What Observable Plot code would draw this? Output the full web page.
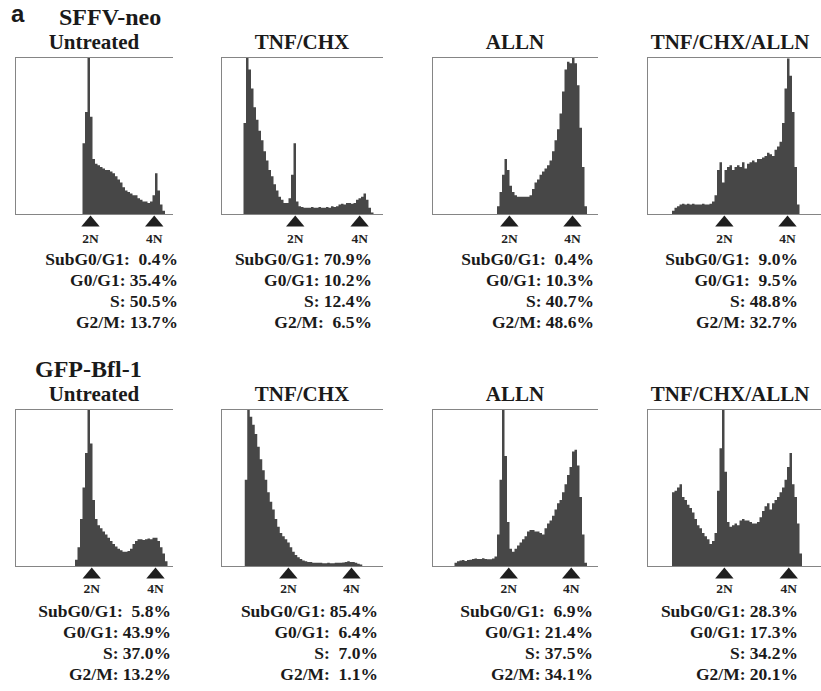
<!DOCTYPE html>
<html><head><meta charset="utf-8">
<script src="https://cdn.jsdelivr.net/npm/d3@7"></script>
<script src="https://cdn.jsdelivr.net/npm/@observablehq/plot@0.6"></script>
<style>
body{margin:0;background:#fff}
#fig{position:relative;width:821px;height:691px;overflow:hidden;background:#fff;color:#1a1a1a}
.t{position:absolute;white-space:pre;font-weight:bold;line-height:1;font-family:"Liberation Serif","Times New Roman",serif}
#fig svg{position:absolute;overflow:visible}
</style></head><body><div id="fig"></div>
<script>
// ---------- data ----------
const panelLetter = "a";
const groups = ["SFFV-neo", "GFP-Bfl-1"];
const treatments = ["Untreated", "TNF/CHX", "ALLN", "TNF/CHX/ALLN"];
const phaseLabels = ["SubG0/G1", "G0/G1", "S", "G2/M"];
const ploidyLabels = ["2N", "4N"];

// cell-cycle percentages [SubG0/G1, G0/G1, S, G2/M]
const pctSffvUntreated = [0.4, 35.4, 50.5, 13.7];
const pctSffvTnfChx = [70.9, 10.2, 12.4, 6.5];
const pctSffvAlln = [0.4, 10.3, 40.7, 48.6];
const pctSffvTnfChxAlln = [9.0, 9.5, 48.8, 32.7];
const pctBflUntreated = [5.8, 43.9, 37.0, 13.2];
const pctBflTnfChx = [85.4, 6.4, 7.0, 1.1];
const pctBflAlln = [6.9, 21.4, 37.5, 34.1];
const pctBflTnfChxAlln = [28.3, 17.3, 34.2, 20.1];

// DNA-content histograms: events (% of full scale) in 4-channel bins
const BIN = 4;
const histSffvUntreated = [45,65,100,62,35,32,31,30,29,28,28,27,26,24,22,20,17,15,14,13,12,12,10,9,8,8,7,8,12,26,15,6,2];
const histSffvTnfChx = [58,100,92,80,68,60,53,47,40,34,28,24,19,15,11,9,7,7,10,25,45,8,5,4.5,4,4,4,4.5,4,4,4.5,4,4,4.5,4,5,4.5,5,6,6.5,6,7,7,6.5,7,9,10,11,13,9,4,1];
const histSffvAlln = [5,14,25,35,28,18,14,12,11,11,11,11,11,12,16,20,22,25,27,29,31,34,40,47,54,64,78,92,97,96,100,96,82,55,30,5];
const histSffvTnfChxAlln = [2,4,5,6,6.5,6,6.5,6,6.5,6,6,6,6.5,6,6,6.5,8,12,28,33,20,28,30,31,28,30,31,30,33,29,32,33,34,33,35,35,36,37,39,38,37,41,43,46,58,80,99,88,65,30,6];
const histBflUntreated = [4,12,30,50,72,100,78,42,30,26,24,22,20,18,16,14,12.5,11,10,9,9,9.5,11,14,16,17,17,16.5,17,17.5,17,18,18,16,12,8,3];
const histBflTnfChx = [55,100,95,90,84,76,68,61,55,47,41,36,30,25,21,19,17,15,12,9,7,5.5,4.5,3.5,3,2.5,2.5,2,2,2,2,1.8,1.8,2,1.8,1.8,2,2,2,2.2,2.5,3,2.5,2.5,2,1.5,1];
const histBflAlln = [2,3,3.5,3.8,3.2,3.8,4,4.5,4.8,4.5,4.5,5,4.5,4.3,4.3,4.8,6,20,55,100,70,28,11,9,11,13,15,17,19,22,23,23,22,22,21,20,24,27,29,32,36,40,42,47,52,58,63,73,74,64,44,20,2];
const histBflTnfChxAlln = [47,48,50,52,44,42,39,37,34,30,26,24,21,19,17,14,16,21,48,75,100,60,28,25,26,27,26,29,30,29,29,28,27,27,28,31,35,38,40,36,40,42,44,47,50,55,63,72,52,44,27,8];

// first channel of each histogram
const startChannels = [[108, 36, 104, 40], [96, 38, 36, 40]];
// 2N and 4N marker channels
const markerChannels = [
  [[120, 222], [118, 221], [123, 224], [123, 224]],
  [[122, 224], [107, 208], [122, 222], [123, 226]]
];

const hists = [
  [histSffvUntreated, histSffvTnfChx, histSffvAlln, histSffvTnfChxAlln],
  [histBflUntreated, histBflTnfChx, histBflAlln, histBflTnfChxAlln]
];
const pcts = [
  [pctSffvUntreated, pctSffvTnfChx, pctSffvAlln, pctSffvTnfChxAlln],
  [pctBflUntreated, pctBflTnfChx, pctBflAlln, pctBflTnfChxAlln]
];

// ---------- layout ----------
const fig = document.getElementById("fig");
const SERIF = "Liberation Serif, Times New Roman, serif";
const CH_PER_PX = 1.6;
const frameLeft = [15, 221, 432, 647];
const frameWidth = [158, 162, 166, 174];
const frameTop = [57, 409];
const FRAME_H = 157;
const statRight = [[178, 372, 594, 798], [171, 378, 593, 798]];
const statBase = [266, 618];
const STAT_LH = 21;
const titleBase = [50, 402];
const labelDy = [24, 22];

function addText(str, x, baseline, size, anchor, family) {
  const d = document.createElement("div");
  d.className = "t";
  d.textContent = str;
  d.style.fontSize = size + "px";
  if (family) d.style.fontFamily = family;
  const k = family && family.includes("Sans") ? 0.8465 : 0.8375;
  d.style.top = (baseline - k * size) + "px";
  if (anchor === "middle") { d.style.left = (x - 500) + "px"; d.style.width = "1000px"; d.style.textAlign = "center"; }
  else if (anchor === "end") { d.style.left = (x - 1000) + "px"; d.style.width = "1000px"; d.style.textAlign = "right"; }
  else d.style.left = x + "px";
  fig.appendChild(d);
}

const tri = {
  draw(ctx, size) {
    const r = Math.sqrt(size / Math.PI);
    const w = r * 1.15, h = r * 0.7;
    ctx.moveTo(0, -h); ctx.lineTo(w, h); ctx.lineTo(-w, h); ctx.closePath();
  }
};

function panel(row, col) {
  const hist = hists[row][col];
  const start = startChannels[row][col];
  const pts = hist.map((v, i) => ({ch: start + i * BIN, v}));
  pts.push({ch: start + hist.length * BIN, v: 0});
  const marks = markerChannels[row][col].map((ch, i) => ({ch, label: ploidyLabels[i]}));
  const W = frameWidth[col];
  const mt = 2, mb = 36, ml = 2, mr = 2;
  const svg = Plot.plot({
    width: W + ml + mr,
    height: FRAME_H + mt + mb,
    marginTop: mt, marginBottom: mb, marginLeft: ml, marginRight: mr,
    style: {background: "transparent", overflow: "visible"},
    x: {domain: [0, W * CH_PER_PX], axis: null},
    y: {domain: [0, 100], axis: null},
    marks: [
      Plot.areaY(pts, {x: "ch", y: "v", curve: "step-after", fill: "#474747"}),
      Plot.ruleY([0, 100], {stroke: "#858585", strokeWidth: 1}),
      Plot.ruleX([0], {stroke: "#858585", strokeWidth: 1}),
      Plot.dot(marks, {x: "ch", y: 0, symbol: tri, r: 8, fill: "#1f1f1f", dy: 6.5}),
      Plot.text(marks, {x: "ch", y: 0, text: "label", dy: labelDy[row], fontSize: 13.5, fontWeight: "bold", fontFamily: SERIF, fill: "#222"})
    ]
  });
  svg.style.left = (frameLeft[col] - ml) + "px";
  svg.style.top = (frameTop[row] - mt) + "px";
  fig.appendChild(svg);

  // title
  addText(treatments[col], frameLeft[col] + Math.min(W, 166) / 2, titleBase[row], 21, "middle");
  // stats
  pcts[row][col].forEach((p, i) => {
    const val = p < 10 ? "  " + p.toFixed(1) : " " + p.toFixed(1);
    addText(phaseLabels[i] + ":" + val + "%", statRight[row][col], statBase[row] + i * STAT_LH, 17.5, "end");
  });
}

addText(panelLetter, 11, 22, 24, "start", "Liberation Sans, Arial, sans-serif");
addText(groups[0], 59, 25, 24, "start");
addText(groups[1], 35, 377, 24, "start");
for (let r = 0; r < 2; r++) for (let c = 0; c < 4; c++) panel(r, c);
</script></body></html>
